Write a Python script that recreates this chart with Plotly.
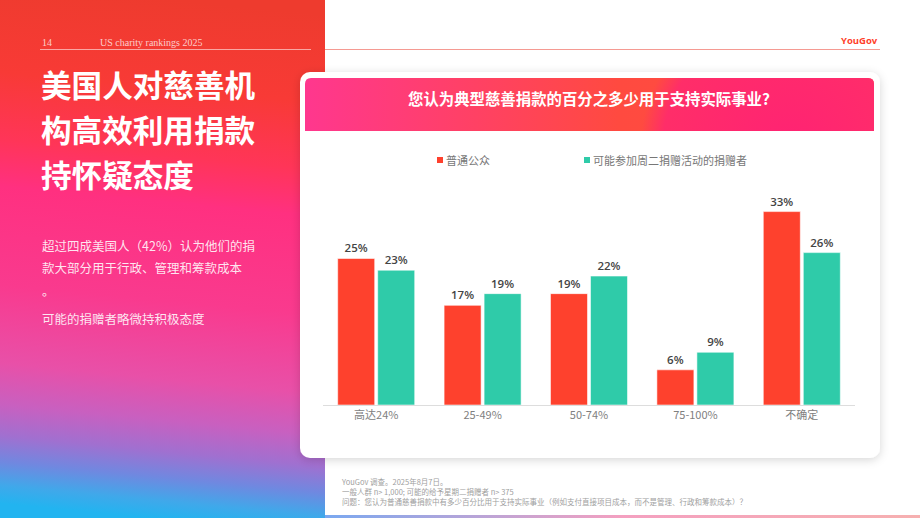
import base64
import plotly.graph_objects as go

# ---------------- data ----------------
categories = ["高达24%", "25-49%", "50-74%", "75-100%", "不确定"]
series_names = ["普通公众", "可能参加周二捐赠活动的捐赠者"]
general_public = [25, 17, 19, 6, 33]
giving_tuesday = [23, 19, 22, 9, 26]

page_number = "14"
report_name = "US charity rankings 2025"
brand = "YouGov"
headline_lines = ["美国人对慈善机", "构高效利用捐款", "持怀疑态度"]
body_lines = ["超过四成美国人（42%）认为他们的捐", "款大部分用于行政、管理和筹款成本", "。", "可能的捐赠者略微持积极态度"]
chart_title = "您认为典型慈善捐款的百分之多少用于支持实际事业?"
footnotes = [
    "YouGov 调查。2025年8月7日。",
    "一般人群 n> 1,000; 可能的给予星期二捐赠者 n> 375",
    "问题：您认为普通慈善捐款中有多少百分比用于支持实际事业（例如支付直接项目成本，而不是管理、行政和筹款成本）？",
]

W, H = 920, 518
RED = "#FE412D"
TEAL = "#2FCBA9"
CJK = "Noto Sans CJK SC"


def px(x):
    return x / W


def py(y):
    return 1 - y / H


# ---------------- background (svg) ----------------
svg = f"""<svg xmlns="http://www.w3.org/2000/svg" width="{W}" height="{H}" viewBox="0 0 {W} {H}" preserveAspectRatio="none">
<defs>
<linearGradient id="lp" x1="0.53" y1="0" x2="0.47" y2="1">
<stop offset="0" stop-color="#EE3B2E"/>
<stop offset="0.17" stop-color="#F83A36"/>
<stop offset="0.3" stop-color="#FF3558"/>
<stop offset="0.39" stop-color="#FF3080"/>
<stop offset="0.58" stop-color="#F93A8E"/>
<stop offset="0.73" stop-color="#E850A8"/>
<stop offset="0.81" stop-color="#C860C0"/>
<stop offset="0.87" stop-color="#A070D0"/>
<stop offset="0.92" stop-color="#7088E0"/>
<stop offset="0.965" stop-color="#40A8EA"/>
<stop offset="1" stop-color="#22B4F0"/>
</linearGradient>
<linearGradient id="hd" x1="0" y1="0" x2="1" y2="0">
<stop offset="0" stop-color="#FF378E"/>
<stop offset="0.3" stop-color="#FF4164"/>
<stop offset="0.55" stop-color="#FF4A40"/>
<stop offset="1" stop-color="#FF5040"/>
</linearGradient>
<radialGradient id="blob" cx="790" cy="150" r="150" gradientUnits="userSpaceOnUse">
<stop offset="0" stop-color="#FF2076" stop-opacity="0.95"/>
<stop offset="0.85" stop-color="#FF2870" stop-opacity="0.85"/>
<stop offset="1" stop-color="#FF2870" stop-opacity="0"/>
</radialGradient>
<linearGradient id="bt" x1="0" y1="0" x2="1" y2="0">
<stop offset="0" stop-color="#7AA8F0"/>
<stop offset="0.5" stop-color="#F4A0C0"/>
<stop offset="1" stop-color="#F6B0B0"/>
</linearGradient>
<filter id="sh" x="-10%" y="-10%" width="120%" height="130%">
<feDropShadow dx="0" dy="2" stdDeviation="5" flood-color="#000" flood-opacity="0.16"/>
</filter>
<clipPath id="hc"><path d="M305,131 L305,84 Q305,78 311,78 L868,78 Q874,78 874,84 L874,131 Z"/></clipPath>
</defs>
<rect width="{W}" height="{H}" fill="#ffffff"/>
<rect width="325" height="{H}" fill="url(#lp)"/>
<line x1="40" y1="49.5" x2="311" y2="49.5" stroke="#ffffff" stroke-opacity="0.55" stroke-width="1"/>
<line x1="325" y1="49.5" x2="880" y2="49.5" stroke="#F59A92" stroke-width="1"/>
<rect x="300" y="72" width="580" height="386" rx="10" fill="#ffffff" filter="url(#sh)"/>
<g clip-path="url(#hc)">
<rect x="305" y="78" width="569" height="53" fill="url(#hd)"/>
<rect x="600" y="0" width="300" height="300" fill="url(#blob)"/>
</g>
<rect x="325" y="515" width="595" height="3" fill="url(#bt)"/>
</svg>"""
svg_uri = "data:image/svg+xml;base64," + base64.b64encode(svg.encode("utf-8")).decode("ascii")

# ---------------- figure ----------------
fig = go.Figure()
label_font = dict(family="Open Sans", size=11.5, color="#444444", weight=600)
for name, vals, col in [(series_names[0], general_public, RED), (series_names[1], giving_tuesday, TEAL)]:
    fig.add_trace(go.Bar(
        x=categories, y=vals, name=name,
        marker=dict(color=col, line=dict(color="rgba(255,255,255,0.55)", width=1)),
        texttemplate="%{y}%", textposition="outside", textfont=label_font,
        cliponaxis=False, showlegend=False, hoverinfo="skip",
    ))

fig.update_layout(
    width=W, height=H,
    margin=dict(l=0, r=0, t=0, b=0),
    paper_bgcolor="white",
    plot_bgcolor="rgba(0,0,0,0)",
    barmode="group", bargap=0.248, bargroupgap=0.075,
    xaxis=dict(domain=[px(323), px(855)], showgrid=False, zeroline=False,
               showline=True, linecolor="#DDDDDD", linewidth=1, ticks="",
               tickfont=dict(family=CJK, size=11, color="#808080"), fixedrange=True),
    yaxis=dict(domain=[py(405), py(194)], range=[0, 36], visible=False, fixedrange=True),
    images=[dict(source=svg_uri, xref="paper", yref="paper", x=0, y=1, sizex=1, sizey=1,
                 sizing="stretch", xanchor="left", yanchor="top", layer="below")],
    showlegend=False,
)

ann = []
# header
ann.append(dict(text=page_number, x=px(40), y=py(42), xanchor="left", yanchor="middle",
                font=dict(family="Liberation Serif", size=10, color="rgba(255,255,255,0.75)")))
ann.append(dict(text=report_name, x=px(98), y=py(42), xanchor="left", yanchor="middle",
                font=dict(family="Liberation Serif", size=10, color="rgba(255,255,255,0.75)")))
ann.append(dict(text="<b>" + brand + "</b>", x=px(880), y=py(41), xanchor="right", yanchor="middle",
                font=dict(family="Open Sans", size=9.5, color="#FF3F2B")))
# headline
for i, line in enumerate(headline_lines):
    ann.append(dict(text="<b>" + line + "</b>", x=px(39), y=py(84 + 45 * i), xanchor="left", yanchor="middle",
                    font=dict(family=CJK, size=30.6, color="white")))
# body
for line, yy in zip(body_lines, [246, 267, 290, 318]):
    ann.append(dict(text=line, x=px(40), y=py(yy), xanchor="left", yanchor="middle",
                    font=dict(family=CJK, size=12.5, color="rgba(255,255,255,0.88)")))
# chart title
ann.append(dict(text="<b>" + chart_title + "</b>", x=px(589), y=py(98), xanchor="center", yanchor="middle",
                font=dict(family=CJK, size=15.4, color="white")))
# legend
legend_pos = [(437, 444), (584, 591)]
shapes = []
for (sx, tx), name, col in zip(legend_pos, series_names, [RED, TEAL]):
    shapes.append(dict(type="rect", xref="paper", yref="paper", x0=px(sx), x1=px(sx + 6),
                       y0=py(163), y1=py(157), fillcolor=col, line=dict(width=0)))
    ann.append(dict(text=name, x=px(tx), y=py(160), xanchor="left", yanchor="middle",
                    font=dict(family=CJK, size=11, color="#777777")))
# footnotes (one text block)
ann.append(dict(text="<br>".join(footnotes), x=px(339), y=py(474), xanchor="left", yanchor="top",
                align="left", font=dict(family=CJK, size=7.5, color="#A0A0A0")))

for a in ann:
    a.update(xref="paper", yref="paper", showarrow=False)
fig.update_layout(annotations=ann, shapes=shapes)

fig.write_html("out.html")
